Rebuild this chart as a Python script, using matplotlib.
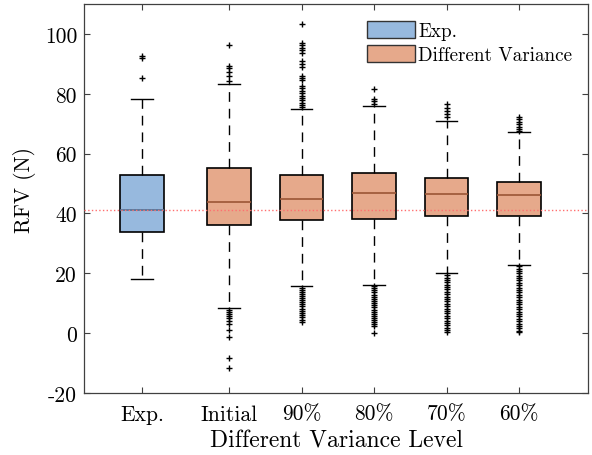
import matplotlib
matplotlib.use("Agg")
import matplotlib.pyplot as plt
from matplotlib.patches import Patch

plt.rcParams["font.family"] = ["cmr10", "DejaVu Serif"]
plt.rcParams["axes.unicode_minus"] = False

# Group names and their x positions
categories = ["Exp.", "Initial", "90%", "80%", "70%", "60%"]
positions = [1.0, 2.2, 3.2, 4.2, 5.2, 6.2]

# Box-plot summary statistics per group (N)
q1 = [33.9, 36.3, 37.9, 38.3, 39.1, 39.3]
median = [41.3, 43.9, 44.8, 46.9, 46.6, 46.3]
q3 = [52.8, 55.2, 53.0, 53.4, 51.9, 50.4]
whisker_low = [18.2, 8.3, 15.7, 16.0, 20.0, 22.7]
whisker_high = [78.2, 83.3, 74.8, 75.8, 70.9, 67.1]

# Outliers per group
fliers_exp = [92.7, 91.8, 85.2]
fliers_initial = [96.2, 89.3, 88.6, 87.4, 86.0, 84.4,
                  7.8, 7.0, 6.3, 5.6, 5.2, 3.9, 3.2, 1.0, -1.2, -8.4, -11.7]
fliers_90 = [103.3, 96.9, 96.2, 95.4, 94.6, 93.6, 90.8, 89.9, 89.1, 86.0,
             85.3, 84.7, 82.7, 81.8, 80.9, 80.2, 79.4, 78.6, 77.8, 76.9,
             76.2, 75.6,
             15.2, 14.5, 13.8, 13.0, 12.4, 11.7, 11.0, 10.3, 9.6, 9.0, 8.2,
             7.5, 6.8, 6.0, 5.3, 4.5, 3.6]
fliers_80 = [81.6, 78.2, 77.6, 76.7,
             15.6, 15.0, 14.3, 13.6, 12.9, 12.2, 11.5, 10.8, 10.0, 9.3, 8.6,
             7.9, 7.2, 6.5, 5.8, 5.1, 4.4, 3.6, 3.0, 2.4, 0.0]
fliers_70 = [76.7, 75.2, 74.3, 73.4, 72.4,
             19.3, 18.5, 17.8, 17.0, 16.2, 15.4, 14.6, 13.8, 13.0, 12.2, 11.4,
             10.6, 9.8, 9.0, 8.2, 7.4, 6.6, 5.8, 5.0, 4.2, 3.4, 2.6, 1.8, 1.0,
             0.3]
fliers_60 = [72.4, 71.6, 70.7, 69.8, 69.0, 68.2, 67.4,
             22.4, 21.6, 20.8, 20.0, 19.2, 18.4, 17.6, 16.8, 16.0, 15.2, 14.4,
             13.6, 12.8, 12.0, 11.2, 10.4, 9.6, 8.8, 8.0, 7.2, 6.4, 5.6, 4.8,
             4.0, 3.2, 2.4, 1.6, 0.8, 0.3]
fliers = [fliers_exp, fliers_initial, fliers_90, fliers_80, fliers_70, fliers_60]

reference_level = 41.3

y_ticks = [-20, 0, 20, 40, 60, 80, 100]
y_tick_labels = ["-20", "0", "20", "40", "60", "80", "100"]

blue_fill = "#97b9de"
orange_fill = "#e6a98b"
blue_median = "#4f6f93"
orange_median = "#9b5535"

fig = plt.figure(figsize=(5.92, 4.56), dpi=100)
ax = fig.add_axes([0.142, 0.136, 0.851, 0.853])

stats = []
for i in range(len(categories)):
    stats.append(dict(med=median[i], q1=q1[i], q3=q3[i],
                      whislo=whisker_low[i], whishi=whisker_high[i],
                      fliers=fliers[i], label=categories[i]))

bp = ax.bxp(stats, positions=positions, widths=0.6, capwidths=0.3,
            patch_artist=True, showfliers=True,
            boxprops=dict(edgecolor="black", linewidth=1.2),
            whiskerprops=dict(color="black", linewidth=1.0,
                              linestyle=(0, (7, 5))),
            capprops=dict(color="black", linewidth=1.0),
            medianprops=dict(linewidth=1.2),
            flierprops=dict(marker="+", markersize=4, markeredgewidth=1.0,
                            markeredgecolor="black", linestyle="none"))

for i, box in enumerate(bp["boxes"]):
    box.set_facecolor(blue_fill if i == 0 else orange_fill)
    box.set_zorder(2)
for i, med in enumerate(bp["medians"]):
    med.set_color(blue_median if i == 0 else orange_median)
    med.set_zorder(3)

ax.axhline(reference_level, color="#ff6f6f", linestyle=":", linewidth=1.0,
           zorder=4)

ax.set_xlim(0.2, 7.15)
ax.set_ylim(-20, 110)
ax.set_xticks(positions)
ax.set_xticklabels(categories)
ax.set_yticks(y_ticks)
ax.set_yticklabels(y_tick_labels)

ax.tick_params(direction="in", top=True, right=True, length=4, width=0.8,
               color="#404040", labelsize=15.5, pad=5)
ax.tick_params(axis="x", pad=8)
for spine in ax.spines.values():
    spine.set_color("#404040")
    spine.set_linewidth(0.9)

ax.set_xlabel("Different Variance Level", fontsize=17, labelpad=4)
ax.set_ylabel("RFV (N)", fontsize=15.5)
ax.yaxis.set_label_coords(-0.095, 0.525)

handles = [Patch(facecolor=blue_fill, edgecolor="#333333", label="Exp."),
           Patch(facecolor=orange_fill, edgecolor="#333333",
                 label="Different Variance")]
ax.legend(handles=handles, loc="upper right", frameon=False, fontsize=13.75,
          handlelength=2.5, handleheight=1.0, handletextpad=0.2,
          labelspacing=0.25, borderaxespad=0.2,
          bbox_to_anchor=(0.992, 0.985))

fig.savefig("out.png", dpi=100)
